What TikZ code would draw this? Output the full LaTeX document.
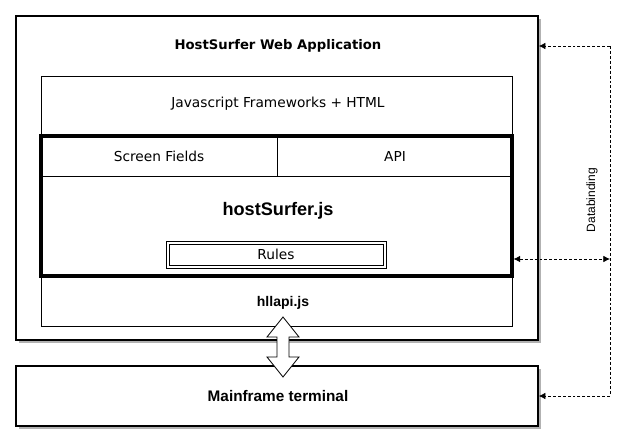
\documentclass[tikz,border=0pt]{standalone}
\usepackage{fontspec}
\setmainfont{DejaVu Sans}
\newfontfamily\arialf{Liberation Sans}
\usetikzlibrary{arrows.meta}
\begin{document}
\begin{tikzpicture}[x=0.75pt,y=-0.75pt,
  bigbox/.style={draw=black,line width=1.1pt,fill=white,inner sep=0pt},
  thinbox/.style={draw=black,line width=0.6pt,inner sep=0pt},
  thickbox/.style={draw=black,line width=2.3pt,inner sep=0pt},
  shade/.style={fill=black!30,draw=none},
  lbl/.style={font=\fontsize{10.3}{12}\selectfont,inner sep=0pt},
  blbl/.style={font=\fontsize{9.9}{12}\selectfont\bfseries,inner sep=0pt},
  alab/.style={font=\arialf\fontsize{11.5}{13}\selectfont\bfseries,inner sep=0pt},
  dashln/.style={dash pattern=on 2.2pt off 1.5pt,line width=0.6pt},
  arrtip/.style={-{Latex[length=5pt,width=5pt]}},
]
\useasboundingbox (0,0) rectangle (622,443);
% shadows
\fill[shade] (19,19) rectangle (541,343);
\fill[shade] (19,369) rectangle (541,429);
% outer boxes
\node[bigbox,minimum width=391.5pt,minimum height=243pt] (outer) at (277,178) {};
\node[bigbox,minimum width=391.5pt,minimum height=45pt] (main) at (277,396) {};
% inner box
\node[thinbox,minimum width=353.25pt,minimum height=187.5pt] (inner) at (276.5,201) {};
\node[thickbox,minimum width=353.25pt,minimum height=105pt] (core) at (276.5,206) {};
\coordinate (divL) at (41,176);
\coordinate (divR) at (512,176);
\draw[line width=0.6pt] (divL) -- (divR);
\coordinate (vtop) at (277,136);
\coordinate (vbot) at (277,176);
\draw[line width=0.6pt] (vtop) -- (vbot);
\node[thinbox,minimum width=165pt,minimum height=20.25pt] (rules) at (276,254.5) {};
\node[draw=black,line width=0.6pt,inner sep=0pt,minimum width=160.5pt,minimum height=15.75pt] (rulesin) at (rules) {};
% texts
\node[blbl] (title) at (278,46) {HostSurfer Web Application};
\node[lbl] (js) at (278,104) {Javascript Frameworks + HTML};
\node[lbl] (sf) at (159,156) {Screen Fields};
\node[lbl] (api) at (395,156) {API};
\node[font=\arialf\fontsize{13.6}{15}\selectfont\bfseries,inner sep=0pt] (hs) at (278,211) {hostSurfer.js};
\node[lbl] (rl) at (rules) {Rules};
\node[font=\arialf\fontsize{10.5}{12}\selectfont\bfseries,inner sep=0pt] (hl) at (283,303) {hllapi.js};
\node[alab] (mf) at (278,396) {Mainframe terminal};
% double arrow
\coordinate (at) at (283,317);
\coordinate (ab) at (283,377);
\draw[line width=0.6pt,fill=white,line join=miter]
  (at) -- (299,337) -- (289,337) -- (289,357) -- (299,357) -- (ab)
  -- (267,357) -- (277,357) -- (277,337) -- (267,337) -- cycle;
% databinding
\coordinate (r1) at (610,46);
\coordinate (r2) at (610,396);
\coordinate (r3) at (610,259);
\draw[dashln,arrtip] (r1) -- (outer.east |- r1);
\draw[dashln] (r1) -- (r2);
\draw[dashln,arrtip] (r2) -- (main.east);
\draw[dashln,{Latex[length=5pt,width=5pt]}-{Latex[length=5pt,width=5pt]}] (core.east |- r3) -- (r3);
\node[font=\arialf\fontsize{9}{11}\selectfont,rotate=90,inner sep=0pt] (db) at (592,200) {Databinding};
\end{tikzpicture}
\end{document}
